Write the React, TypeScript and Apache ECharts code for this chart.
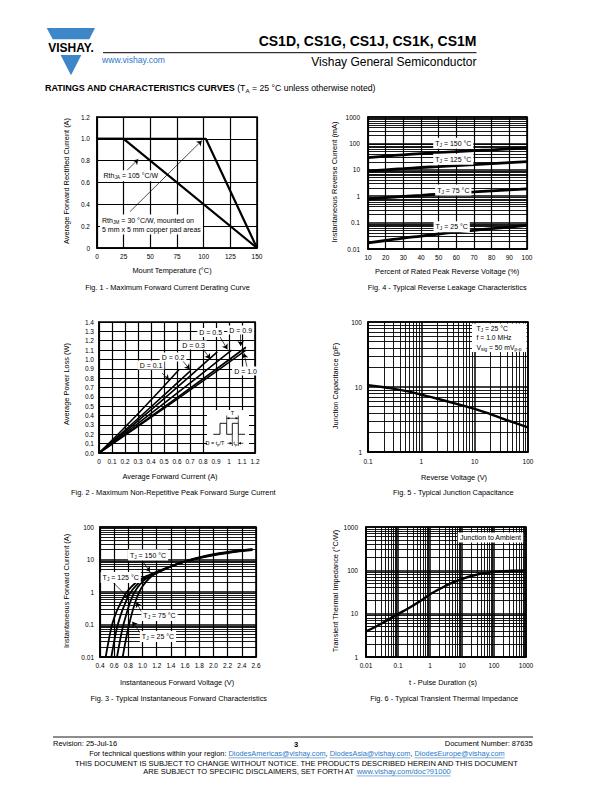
import React, { useEffect, useRef } from "react";
import * as echarts from "echarts";

const FONT = "'Liberation Sans', Arial, Helvetica, sans-serif";
const BLUE = "#3d86c9";
const LINK = "#2a78c8";

// ---------- Fig. 1 : derating ----------
const fig1XTicks = [0, 25, 50, 75, 100, 125, 150];
const fig1YTicks = [0, 0.2, 0.4, 0.6, 0.8, 1.0, 1.2];
const fig1JmTemp = [0, 102, 150];
const fig1JmCurrent = [1.0, 1.0, 0];
const fig1JaTemp = [0, 25, 150];
const fig1JaCurrent = [1.0, 1.0, 0];
const fig1Arrows = [
  [[27.8, 0.708], [38.7, 0.8125]],
  [[30.9, 0.333], [98.2, 0.983]],
];

// ---------- Fig. 2 : power loss ----------
const fig2XTicks = [0, 0.1, 0.2, 0.3, 0.4, 0.5, 0.6, 0.7, 0.8, 0.9, 1.0, 1.1, 1.2];
const fig2YTicks = [0, 0.1, 0.2, 0.3, 0.4, 0.5, 0.6, 0.7, 0.8, 0.9, 1.0, 1.1, 1.2, 1.3, 1.4];
const fig2D01I = [0, 0.3, 0.615];
const fig2D01P = [0, 0.42, 0.89];
const fig2D02I = [0, 0.35, 0.705];
const fig2D02P = [0, 0.43, 0.88];
const fig2D03I = [0, 0.45, 0.91];
const fig2D03P = [0, 0.52, 1.08];
const fig2D05I = [0, 0.5, 1.02];
const fig2D05P = [0, 0.53, 1.1];
const fig2D09I = [0, 0.55, 1.13];
const fig2D09P = [0, 0.54, 1.13];
const fig2D10I = [0, 0.55, 1.13];
const fig2D10P = [0, 0.525, 1.1];
const fig2Arrows = [
  [[0.485, 0.855], [0.538, 0.78]],
  [[0.638, 0.994], [0.698, 0.894]],
  [[0.792, 1.133], [0.854, 1.005]],
  [[0.923, 1.261], [0.987, 1.108]],
  [[1.09, 1.282], [1.09, 1.144]],
  [[1.141, 0.905], [1.115, 1.066]],
];

// ---------- Fig. 3 : forward characteristics ----------
const fig3XTicks = [0.4, 0.6, 0.8, 1.0, 1.2, 1.4, 1.6, 1.8, 2.0, 2.2, 2.4, 2.6];
const fig3V150 = [0.48, 0.52, 0.56, 0.6, 0.65, 0.7, 0.75, 0.8, 0.9, 1.0, 1.1, 1.2, 1.4, 1.6, 1.8, 2.0, 2.2, 2.4, 2.55];
const fig3I150 = [0.01, 0.03, 0.08, 0.16, 0.3, 0.5, 0.8, 1.15, 1.9, 2.7, 3.4, 4.2, 6.2, 8.6, 11, 13.5, 15.8, 18, 19.5];
const fig3V125 = [0.56, 0.6, 0.64, 0.7, 0.75, 0.8, 0.85, 0.9, 1.0, 1.1, 1.2, 1.4, 1.6, 1.8, 2.0, 2.2, 2.4, 2.55];
const fig3I125 = [0.01, 0.03, 0.08, 0.22, 0.42, 0.75, 1.1, 1.5, 2.4, 3.2, 4.0, 6.2, 8.7, 11.2, 13.8, 16.2, 18.5, 20];
const fig3V75 = [0.64, 0.68, 0.72, 0.77, 0.82, 0.87, 0.9, 1.0, 1.1, 1.2, 1.4, 1.6, 1.8, 2.0, 2.2, 2.4, 2.55];
const fig3I75 = [0.01, 0.03, 0.08, 0.2, 0.45, 0.85, 1.1, 2.1, 3.0, 3.9, 6.1, 8.7, 11.4, 14.1, 16.6, 19, 20.5];
const fig3V25 = [0.72, 0.76, 0.8, 0.85, 0.9, 0.95, 1.0, 1.1, 1.2, 1.4, 1.6, 1.8, 2.0, 2.2, 2.4, 2.55];
const fig3I25 = [0.01, 0.03, 0.08, 0.22, 0.5, 0.95, 1.5, 2.7, 3.8, 6.0, 8.8, 11.7, 14.5, 17.1, 19.5, 21];
const fig3Arrows = [
  [[0.988, 9.66], [1.105, 4.2]],
  [[0.573, 2.07], [0.809, 0.64]],
  [[0.988, 0.24], [0.912, 0.48]],
  [[0.988, 0.0475], [0.856, 0.122]],
];

// ---------- Fig. 4 : reverse leakage ----------
const fig4XTicks = [10, 20, 30, 40, 50, 60, 70, 80, 90, 100];
const fig4Pct = [10, 20, 30, 40, 50, 60, 70, 80, 90, 100];
const fig4Ir150 = [29, 33, 37, 41, 45, 49, 53, 57, 62, 67];
const fig4Ir125 = [9, 10, 11, 12.2, 13.3, 14.5, 15.8, 17.2, 18.8, 20.5];
const fig4Ir75 = [0.78, 0.88, 0.98, 1.08, 1.2, 1.32, 1.45, 1.6, 1.75, 1.9];
const fig4Ir25 = [0.017, 0.021, 0.026, 0.031, 0.037, 0.044, 0.051, 0.059, 0.068, 0.078];

// ---------- Fig. 5 : junction capacitance ----------
const fig5Volt = [0.1, 0.2, 0.5, 1, 2, 5, 10, 20, 50, 100];
const fig5Cap = [10.7, 9.9, 8.7, 7.6, 6.6, 5.4, 4.6, 3.8, 2.9, 2.4];

// ---------- Fig. 6 : transient thermal impedance ----------
const fig6Time = [0.01, 0.02, 0.05, 0.1, 0.2, 0.5, 1, 2, 5, 10, 20, 50, 100, 200, 500, 1000];
const fig6Zth = [3.9, 5.0, 7.3, 9.8, 13, 19.5, 28, 37, 52, 63, 74, 86, 92, 96, 98, 99];

const zip = (xs: number[], ys: number[]) => xs.map((x, i) => [x, ys[i]]);

const minorLog = (minExp: number, maxExp: number) => {
  const out: number[] = [];
  for (let e = minExp; e < maxExp; e++)
    for (let k = 2; k <= 9; k++) out.push(+(k * Math.pow(10, e)).toPrecision(3));
  return out;
};

const logFmt = (v: number) => (v >= 1 ? String(Math.round(v)) : String(+v.toPrecision(1)));

const labelStyle = (margin: number, formatter: any) => ({
  color: "#000",
  fontSize: 6.5,
  fontFamily: FONT,
  margin,
  formatter,
  interval: 0,
  showMinLabel: true,
  showMaxLabel: true,
});

const valAxis = (gridIndex: number, ticks: number[], fmt: any, margin: number) => ({
  type: "value",
  gridIndex,
  min: ticks[0],
  max: ticks[ticks.length - 1],
  interval: +(ticks[1] - ticks[0]).toPrecision(6),
  axisLine: { show: true, onZero: false, lineStyle: { color: "#000", width: 1.6 } },
  axisTick: { show: false },
  splitLine: { show: true, lineStyle: { color: "#000", width: 1.2 } },
  axisLabel: labelStyle(margin, fmt),
});

const logAxis = (gridIndex: number, min: number, max: number, margin: number) => ({
  type: "log",
  logBase: 10,
  gridIndex,
  min,
  max,
  axisLine: { show: true, onZero: false, lineStyle: { color: "#000", width: 1.6 } },
  axisTick: { show: false },
  splitLine: { show: true, lineStyle: { color: "#000", width: 1.5 } },
  axisLabel: labelStyle(margin, logFmt),
});

const lineSeries = (idx: number, data: number[][], width: number, smooth: any, extra: any = {}) => ({
  type: "line",
  xAxisIndex: idx,
  yAxisIndex: idx,
  data,
  symbol: "none",
  showSymbol: false,
  smooth,
  silent: true,
  lineStyle: { color: "#000", width },
  itemStyle: { color: "#000" },
  ...extra,
});

const minorMarks = (xs: number[], ys: number[]) => ({
  silent: true,
  symbol: ["none", "none"],
  label: { show: false },
  lineStyle: { color: "#000", width: 0.9, type: "solid" },
  emphasis: { disabled: true },
  data: [...xs.map((v) => ({ xAxis: v })), ...ys.map((v) => ({ yAxis: v }))],
});

const arrowMarks = (pairs: number[][][]) => ({
  silent: true,
  symbol: ["none", "arrow"],
  symbolSize: 5,
  label: { show: false },
  lineStyle: { color: "#000", width: 0.7, type: "solid" },
  emphasis: { disabled: true },
  data: pairs.map(([a, b]) => [{ coord: a }, { coord: b }]),
});

const rich = (size: number) => ({
  n: { fontSize: size, fontFamily: FONT, fill: "#000", lineHeight: size + 2 },
  s: { fontSize: size * 0.7, fontFamily: FONT, fill: "#000", verticalAlign: "bottom", lineHeight: size * 0.7 },
  b: { fontSize: size, fontFamily: FONT, fontWeight: "bold", fill: "#000", lineHeight: size + 2 },
});

const T = (x: number, y: number, text: string, o: any = {}) => ({
  type: "text",
  x,
  y,
  z: 100,
  rotation: o.rot || 0,
  style: {
    text,
    fill: o.color || "#000",
    fontSize: o.size || 7.4,
    fontFamily: FONT,
    fontWeight: o.weight || "normal",
    align: o.align || "center",
    verticalAlign: "middle",
    backgroundColor: o.bg,
    padding: o.pad,
    rich: o.rich,
    lineHeight: o.lineHeight,
  },
});

const tj = (x: number, y: number, t: string) =>
  T(x, y, `{n|T}{s|J}{n| = ${t} °C}`, { rich: rich(7), bg: "#fff", pad: [1, 2] });

const L = (x1: number, y1: number, x2: number, y2: number, w = 0.8, color = "#000") => ({
  type: "line",
  z: 100,
  shape: { x1, y1, x2, y2 },
  style: { stroke: color, lineWidth: w },
});

const P = (points: number[][], fill = "#000", z = 100) => ({
  type: "polygon",
  z,
  shape: { points },
  style: { fill },
});

export default function App() {
  const ref = useRef<HTMLDivElement>(null);

  useEffect(() => {
    if (!ref.current) return;
    const chart = echarts.init(ref.current, undefined, { renderer: "svg" });

    const ctx = document.createElement("canvas").getContext("2d")!;
    const measure = (t: string, size: number, weight = "normal") => {
      ctx.font = `${weight} ${size}px ${FONT}`;
      return ctx.measureText(t).width;
    };

    const graphics: any[] = [];

    // ---------- header ----------
    graphics.push(P([[46.7, 28], [95, 28], [89.3, 39.3], [52.7, 39.3]], BLUE));
    graphics.push(P([[60.6, 55], [81.4, 55], [71, 75.3]], BLUE));
    graphics.push(T(71, 47.6, "VISHAY.", { size: 12, weight: "bold" }));
    graphics.push(T(476.5, 41, "CS1D, CS1G, CS1J, CS1K, CS1M", { size: 14, weight: "bold", align: "right" }));
    graphics.push(L(103, 52.7, 476.5, 52.7, 1));
    graphics.push(T(102, 59.5, "www.vishay.com", { size: 8.6, color: LINK, align: "left" }));
    graphics.push(T(476.5, 62, "Vishay General Semiconductor", { size: 12, align: "right" }));
    graphics.push(
      T(45, 88, "{b|RATINGS AND CHARACTERISTICS CURVES} {n|(T}{s|A}{n| = 25 °C unless otherwise noted)}", {
        align: "left",
        rich: {
          b: { fontSize: 9, fontFamily: FONT, fontWeight: "bold", fill: "#000", lineHeight: 11 },
          n: { fontSize: 8.7, fontFamily: FONT, fill: "#000", lineHeight: 11 },
          s: { fontSize: 6.2, fontFamily: FONT, fill: "#000", verticalAlign: "bottom", lineHeight: 7 },
        },
      })
    );

    // ---------- axis titles & captions ----------
    const rot = Math.PI / 2;
    graphics.push(T(66.5, 181, "Average Forward Rectified Current (A)", { rot }));
    graphics.push(T(172, 270.5, "Mount Temperature (°C)"));
    graphics.push(T(167.5, 287, "Fig. 1 - Maximum Forward Current Derating Curve"));

    graphics.push(T(334, 182, "Instantaneous Reverse Current (mA)", { rot }));
    graphics.push(T(447.2, 271, "Percent of Rated Peak Reverse Voltage (%)"));
    graphics.push(T(447.2, 287, "Fig. 4 - Typical Reverse Leakage Characteristics"));

    graphics.push(T(66, 384, "Average Power Loss (W)", { rot }));
    graphics.push(T(170, 476, "Average Forward Current (A)"));
    graphics.push(T(173.3, 492.5, "Fig. 2 - Maximum Non-Repetitive Peak Forward Surge Current"));

    graphics.push(T(335, 386, "Junction Capacitance (pF)", { rot }));
    graphics.push(T(454, 477, "Reverse Voltage (V)"));
    graphics.push(T(453.3, 492.5, "Fig. 5 - Typical Junction Capacitance"));

    graphics.push(T(66, 591, "Instantaneous Forward Current (A)", { rot }));
    graphics.push(T(177, 682, "Instantaneous Forward Voltage (V)"));
    graphics.push(T(178.8, 698, "Fig. 3 - Typical Instantaneous Forward Characteristics"));

    graphics.push(T(335, 591, "Transient Thermal Impedance (°C/W)", { rot }));
    graphics.push(T(443, 682, "t - Pulse Duration (s)"));
    graphics.push(T(444.2, 698, "Fig. 6 - Typical Transient Thermal Impedance"));

    // ---------- Fig 1 annotations ----------
    graphics.push(
      T(101.5, 175.7, "{n|Rth}{s|JA}{n| = 105 °C/W}", { align: "left", rich: rich(7), bg: "#fff", pad: [1, 2] })
    );
    graphics.push(
      T(100, 224.5, "{n|Rth}{s|JM}{n| = 30 °C/W, mounted on}\n{n|5 mm x 5 mm copper pad areas}", {
        align: "left",
        rich: rich(7),
        bg: "#fff",
        pad: [1, 2],
      })
    );

    // ---------- Fig 4 labels ----------
    graphics.push(tj(453.3, 143.3, "150"));
    graphics.push(tj(453.3, 159.3, "125"));
    graphics.push(tj(453.3, 190, "75"));
    graphics.push(tj(451.7, 226.7, "25"));

    // ---------- Fig 2 labels ----------
    const dl = (x: number, y: number, t: string) => T(x, y, t, { size: 7, bg: "#fff", pad: [1, 2] });
    graphics.push(dl(151, 365, "D = 0.1"));
    graphics.push(dl(173, 357, "D = 0.2"));
    graphics.push(dl(193.5, 345, "D = 0.3"));
    graphics.push(dl(210.7, 332.5, "D = 0.5"));
    graphics.push(dl(240.7, 330, "D = 0.9"));
    graphics.push(dl(245.5, 371, "D = 1.0"));
    // inset waveform
    graphics.push({ type: "rect", z: 90, shape: { x: 207, y: 410, width: 42, height: 42 }, style: { fill: "#fff" } });
    graphics.push({
      type: "polyline",
      z: 100,
      shape: {
        points: [
          [213.3, 434.3], [220, 434.3], [220, 423.3], [226.7, 423.3], [226.7, 434.3],
          [232.3, 434.3], [232.3, 423.3], [238.3, 423.3], [238.3, 434.3], [245, 434.3],
        ],
      },
      style: { stroke: "#000", lineWidth: 0.9, fill: "none" },
    });
    graphics.push(L(226.7, 415.5, 226.7, 423.3, 0.7));
    graphics.push(L(238.3, 415.5, 238.3, 423.3, 0.7));
    graphics.push(L(226.7, 418.3, 238.3, 418.3, 0.7));
    graphics.push(P([[226.9, 418.3], [229.4, 417], [229.4, 419.6]]));
    graphics.push(P([[238.1, 418.3], [235.6, 417], [235.6, 419.6]]));
    graphics.push(T(232.5, 413.2, "T", { size: 5.5 }));
    graphics.push(L(232.3, 434.3, 232.3, 446, 0.7));
    graphics.push(L(238.3, 434.3, 238.3, 446, 0.7));
    graphics.push(L(227.5, 443.3, 232.1, 443.3, 0.7));
    graphics.push(L(238.5, 443.3, 243.3, 443.3, 0.7));
    graphics.push(P([[232.1, 443.3], [229.6, 442], [229.6, 444.6]]));
    graphics.push(P([[238.5, 443.3], [241, 442], [241, 444.6]]));
    graphics.push(
      T(235.3, 443, "{n|t}{s|p}", {
        rich: {
          n: { fontSize: 5.5, fontFamily: FONT, fill: "#000", lineHeight: 6.5 },
          s: { fontSize: 4, fontFamily: FONT, fill: "#000", verticalAlign: "bottom", lineHeight: 4 },
        },
      })
    );
    graphics.push(
      T(215, 443, "{n|D = t}{s|p}{n|/T}", {
        rich: {
          n: { fontSize: 5.5, fontFamily: FONT, fill: "#000", lineHeight: 6.5 },
          s: { fontSize: 4, fontFamily: FONT, fill: "#000", verticalAlign: "bottom", lineHeight: 4 },
        },
      })
    );

    // ---------- Fig 5 box ----------
    graphics.push({ type: "rect", z: 95, shape: { x: 472, y: 323.5, width: 54.5, height: 28.5 }, style: { fill: "#fff" } });
    graphics.push(T(476.5, 328.3, "{n|T}{s|J}{n| = 25 °C}", { align: "left", rich: rich(6.8) }));
    graphics.push(T(476.5, 337.8, "{n|f = 1.0 MHz}", { align: "left", rich: rich(6.8) }));
    graphics.push(T(476.5, 347.3, "{n|V}{s|sig}{n| = 50 mV}{s|p-p}", { align: "left", rich: rich(6.8) }));

    // ---------- Fig 3 labels ----------
    graphics.push(tj(148, 555, "150"));
    graphics.push(tj(120.7, 577.5, "125"));
    graphics.push(tj(159.5, 615.5, "75"));
    graphics.push(tj(158, 636.5, "25"));

    // ---------- Fig 6 label ----------
    graphics.push(T(490.5, 537.5, "Junction to Ambient", { size: 7, bg: "#fff", pad: [1.5, 2] }));

    // ---------- footer ----------
    graphics.push(L(53, 737, 533, 737, 0.9));
    graphics.push(T(53, 743.3, "Revision: 25-Jul-16", { size: 7.5, align: "left" }));
    graphics.push(T(296, 744, "3", { size: 7.5, weight: "bold" }));
    graphics.push(T(532.7, 743.3, "Document Number: 87635", { size: 7.5, align: "right" }));

    const row = (cx: number, y: number, parts: { t: string; link?: boolean }[], size: number) => {
      const widths = parts.map((p) => measure(p.t, size));
      const total = widths.reduce((a, b) => a + b, 0);
      let x = cx - total / 2;
      parts.forEach((p, i) => {
        graphics.push(T(x, y, p.t.trimEnd(), { size, align: "left", color: p.link ? LINK : "#000" }));
        if (p.link) graphics.push(L(x, y + size * 0.55, x + widths[i], y + size * 0.55, 0.6, LINK));
        x += widths[i];
      });
    };
    row(
      297,
      753.8,
      [
        { t: "For technical questions within your region: " },
        { t: "DiodesAmericas@vishay.com", link: true },
        { t: ", " },
        { t: "DiodesAsia@vishay.com", link: true },
        { t: ", " },
        { t: "DiodesEurope@vishay.com", link: true },
      ],
      7.35
    );
    row(297, 763, [{ t: "THIS DOCUMENT IS SUBJECT TO CHANGE WITHOUT NOTICE. THE PRODUCTS DESCRIBED HEREIN AND THIS DOCUMENT" }], 7.5);
    row(
      297,
      771.8,
      [{ t: "ARE SUBJECT TO SPECIFIC DISCLAIMERS, SET FORTH AT " }, { t: "www.vishay.com/doc?91000", link: true }],
      7.5
    );

    const gridBase = { show: true, borderColor: "#000", borderWidth: 1.6, backgroundColor: "#fff", containLabel: false };

    const option: any = {
      animation: false,
      backgroundColor: "#fff",
      grid: [
        { ...gridBase, left: 97, top: 117, width: 160, height: 131 },
        { ...gridBase, left: 368, top: 117, width: 159, height: 132 },
        { ...gridBase, left: 99, top: 322, width: 156, height: 131 },
        { ...gridBase, left: 368, top: 322, width: 160, height: 130 },
        { ...gridBase, left: 100, top: 527, width: 156, height: 130 },
        { ...gridBase, left: 366, top: 527, width: 160, height: 130 },
      ],
      xAxis: [
        valAxis(0, fig1XTicks, (v: number) => String(v), 5),
        valAxis(1, fig4XTicks, (v: number) => String(v), 5),
        valAxis(2, fig2XTicks, (v: number) => String(Math.round(v * 10) / 10), 5),
        logAxis(3, 0.1, 100, 6),
        valAxis(4, fig3XTicks, (v: number) => v.toFixed(1), 5),
        logAxis(5, 0.01, 1000, 5),
      ],
      yAxis: [
        valAxis(0, fig1YTicks, (v: number) => (v === 0 ? "0" : v.toFixed(1)), 7),
        logAxis(1, 0.01, 1000, 8),
        valAxis(2, fig2YTicks, (v: number) => v.toFixed(1), 5),
        logAxis(3, 1, 100, 6),
        logAxis(4, 0.01, 100, 6),
        logAxis(5, 1, 1000, 8),
      ],
      series: [
        // Fig 1
        lineSeries(0, zip(fig1JmTemp, fig1JmCurrent), 2.2, false, { markLine: arrowMarks(fig1Arrows) }),
        lineSeries(0, zip(fig1JaTemp, fig1JaCurrent), 2.2, false),
        // Fig 4
        lineSeries(1, zip(fig4Pct, fig4Ir150), 2.8, true, { markLine: minorMarks([], minorLog(-2, 3)) }),
        lineSeries(1, zip(fig4Pct, fig4Ir125), 2.8, true),
        lineSeries(1, zip(fig4Pct, fig4Ir75), 2.8, true),
        lineSeries(1, zip(fig4Pct, fig4Ir25), 2.8, true),
        // Fig 2
        lineSeries(2, zip(fig2D01I, fig2D01P), 1.6, true, { markLine: arrowMarks(fig2Arrows) }),
        lineSeries(2, zip(fig2D02I, fig2D02P), 1.6, true),
        lineSeries(2, zip(fig2D03I, fig2D03P), 1.6, true),
        lineSeries(2, zip(fig2D05I, fig2D05P), 1.6, true),
        lineSeries(2, zip(fig2D09I, fig2D09P), 1.6, true),
        lineSeries(2, zip(fig2D10I, fig2D10P), 1.6, true),
        // Fig 5
        lineSeries(3, zip(fig5Volt, fig5Cap), 2.4, true, { markLine: minorMarks(minorLog(-1, 2), minorLog(0, 2)) }),
        // Fig 3
        lineSeries(4, zip(fig3V150, fig3I150), 1.8, true, { markLine: minorMarks([], minorLog(-2, 2)) }),
        lineSeries(4, zip(fig3V125, fig3I125), 1.8, true, { markLine: arrowMarks(fig3Arrows) }),
        lineSeries(4, zip(fig3V75, fig3I75), 1.8, true),
        lineSeries(4, zip(fig3V25, fig3I25), 1.8, true),
        // Fig 6
        lineSeries(5, zip(fig6Time, fig6Zth), 2.4, true, { markLine: minorMarks(minorLog(-2, 3), minorLog(0, 3)) }),
      ],
      graphic: graphics,
    };

    chart.setOption(option);
    return () => chart.dispose();
  }, []);

  return (
    <div
      ref={ref}
      style={{ position: "absolute", left: 0, top: 0, width: 612, height: 792, background: "#fff" }}
    />
  );
}
